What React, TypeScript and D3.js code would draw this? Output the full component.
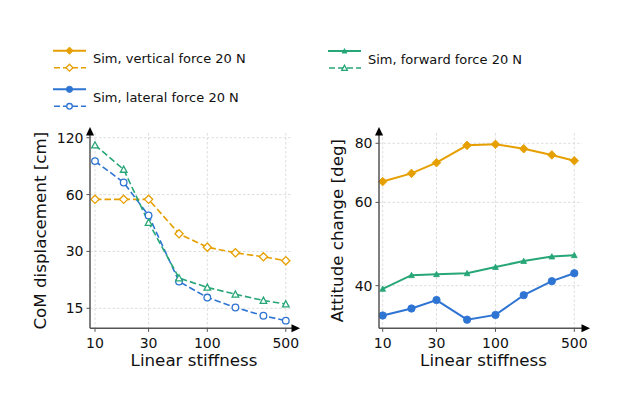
import React from "react";
import * as d3 from "d3";

const stiffness = [10, 18, 30, 56, 100, 178, 316, 500];
const comVertical = [56.6, 56.6, 56.6, 37.2, 31.6, 29.5, 28.1, 26.8];
const comLateral = [90.2, 69.5, 46.5, 20.8, 17.1, 15.15, 13.7, 12.9];
const comForward = [109.7, 81.5, 42.7, 21.7, 19.35, 17.8, 16.5, 15.8];
const attVertical = [66.4, 69.1, 72.8, 79.2, 79.6, 77.9, 75.6, 73.5];
const attLateral = [34.6, 35.8, 37.3, 33.9, 34.7, 38.2, 40.9, 42.5];
const attForward = [39.4, 42.1, 42.3, 42.5, 43.8, 45.1, 46.1, 46.4];
const xTicks = [10, 30, 100, 500];
const comTicks = [15, 30, 60, 120];
const attTicks = [40, 60, 80];

const ORANGE = "#E69F00";
const BLUE = "#2D74D3";
const GREEN = "#27A677";
const FONT = "DejaVu Sans";

type Kind = "diamond" | "circle" | "triangle";

function Marker({ kind, x, y, color, filled, scale = 1 }: { kind: Kind; x: number; y: number; color: string; filled: boolean; scale?: number }) {
  const fill = filled ? color : "#fff";
  const sw = filled ? 0.8 : 1.3;
  if (kind === "circle") {
    return <circle cx={x} cy={y} r={(filled ? 3.7 : 3.3) * scale} fill={fill} stroke={color} strokeWidth={sw} />;
  }
  if (kind === "diamond") {
    const r = (filled ? 4.3 : 4.1) * scale;
    return <path d={`M${x},${y - r}L${x + r},${y}L${x},${y + r}L${x - r},${y}Z`} fill={fill} stroke={color} strokeWidth={sw} />;
  }
  const r = (filled ? 2.9 : 3.3) * scale;
  return <path d={`M${x},${y - r}L${x + r},${y + r * 0.85}L${x - r},${y + r * 0.85}Z`} fill={fill} stroke={color} strokeWidth={sw} />;
}

type Series = { values: number[]; color: string; kind: Kind };

function Panel({
  left, right, top, bottom, xRange, yDomain, yRange, yTicks, series, dashed, yLabel, yLabelX,
}: {
  left: number; right: number; top: number; bottom: number;
  xRange: [number, number]; yDomain: [number, number]; yRange: [number, number];
  yTicks: number[]; series: Series[]; dashed: boolean; yLabel: string; yLabelX: number;
}) {
  const x = d3.scaleLog().domain([10, 500]).range(xRange);
  const y = d3.scaleLog().domain(yDomain).range(yRange);
  const line = d3.line<number>().x((_, i) => x(stiffness[i])).y((v) => y(v));
  const spine = "#555";
  return (
    <g>
      {xTicks.map((t) => (
        <line key={"gx" + t} x1={x(t)} x2={x(t)} y1={top} y2={bottom} stroke="#d4d4d4" strokeWidth={0.8} strokeDasharray="2.5,2" />
      ))}
      {yTicks.map((t) => (
        <line key={"gy" + t} x1={left} x2={right - 2} y1={y(t)} y2={y(t)} stroke="#d4d4d4" strokeWidth={0.8} strokeDasharray="2.5,2" />
      ))}
      {series.map((s, i) => (
        <path key={"l" + i} d={line(s.values) || ""} fill="none" stroke={s.color} strokeWidth={dashed ? 1.6 : 2}
          strokeDasharray={dashed ? "6.5,3" : undefined} />
      ))}
      {series.map((s, i) =>
        s.values.map((v, j) => (
          <Marker key={"m" + i + "-" + j} kind={s.kind} x={x(stiffness[j])} y={y(v)} color={s.color} filled={!dashed} />
        ))
      )}
      <line x1={left} x2={left} y1={bottom} y2={top} stroke={spine} strokeWidth={1.5} />
      <line x1={left} x2={right} y1={bottom} y2={bottom} stroke={spine} strokeWidth={1.5} />
      <path d={`M${left},${top - 6}L${left + 4},${top + 2.5}L${left - 4},${top + 2.5}Z`} fill="#000" />
      <path d={`M${right + 6},${bottom}L${right - 2.5},${bottom - 4}L${right - 2.5},${bottom + 4}Z`} fill="#000" />
      {xTicks.map((t) => (
        <g key={"tx" + t}>
          <line x1={x(t)} x2={x(t)} y1={bottom} y2={bottom + 3.5} stroke={spine} strokeWidth={1} />
          <text x={x(t)} y={bottom + 19.5} textAnchor="middle" fontSize={14} fontFamily={FONT} fill="#111">{t}</text>
        </g>
      ))}
      {yTicks.map((t) => (
        <g key={"ty" + t}>
          <line x1={left} x2={left - 3.5} y1={y(t)} y2={y(t)} stroke={spine} strokeWidth={1} />
          <text x={left - 6.5} y={y(t)} dy="0.36em" textAnchor="end" fontSize={14} fontFamily={FONT} fill="#111">{t}</text>
        </g>
      ))}
      <text x={(left + right) / 2 + 2} y={366} textAnchor="middle" fontSize={16.7} fontFamily={FONT} fill="#111">Linear stiffness</text>
      <text transform={`translate(${yLabelX},${(top + bottom) / 2}) rotate(-90)`} textAnchor="middle" fontSize={16.7} fontFamily={FONT} fill="#111">{yLabel}</text>
    </g>
  );
}

function LegendItem({ x, y, color, kind, label }: { x: number; y: number; color: string; kind: Kind; label: string }) {
  const w = 33;
  return (
    <g>
      <line x1={x} x2={x + w} y1={y} y2={y} stroke={color} strokeWidth={2} />
      <Marker kind={kind} x={x + w / 2} y={y} color={color} filled={true} scale={0.85} />
      <line x1={x} x2={x + w} y1={y + 17} y2={y + 17} stroke={color} strokeWidth={1.6} strokeDasharray="6,3" strokeDashoffset={-1} />
      <Marker kind={kind} x={x + w / 2} y={y + 17} color={color} filled={false} scale={0.85} />
      <text x={x + 40} y={y + 12.6} fontSize={13} fontFamily={FONT} fill="#111">{label}</text>
    </g>
  );
}

export default function App() {
  return (
    <svg width={622} height={400} style={{ position: "absolute", left: 0, top: 0, background: "#fff" }}>
      <rect width={622} height={400} fill="#fff" />
      <LegendItem x={53} y={50.7} color={ORANGE} kind="diamond" label="Sim, vertical force 20 N" />
      <LegendItem x={53} y={89.3} color={BLUE} kind="circle" label="Sim, lateral force 20 N" />
      <LegendItem x={328} y={51} color={GREEN} kind="triangle" label="Sim, forward force 20 N" />
      <Panel left={90} right={294} top={133} bottom={328.3} xRange={[95, 285.8]}
        yDomain={[15, 120]} yRange={[308.3, 137.7]} yTicks={comTicks} dashed={true}
        yLabel="CoM displacement [cm]" yLabelX={46}
        series={[
          { values: comVertical, color: ORANGE, kind: "diamond" },
          { values: comLateral, color: BLUE, kind: "circle" },
          { values: comForward, color: GREEN, kind: "triangle" },
        ]} />
      <Panel left={379} right={584} top={133} bottom={328.3} xRange={[382.7, 574.3]}
        yDomain={[40, 80]} yRange={[285.7, 143.3]} yTicks={attTicks} dashed={false}
        yLabel="Attitude change [deg]" yLabelX={343}
        series={[
          { values: attVertical, color: ORANGE, kind: "diamond" },
          { values: attForward, color: GREEN, kind: "triangle" },
          { values: attLateral, color: BLUE, kind: "circle" },
        ]} />
    </svg>
  );
}
